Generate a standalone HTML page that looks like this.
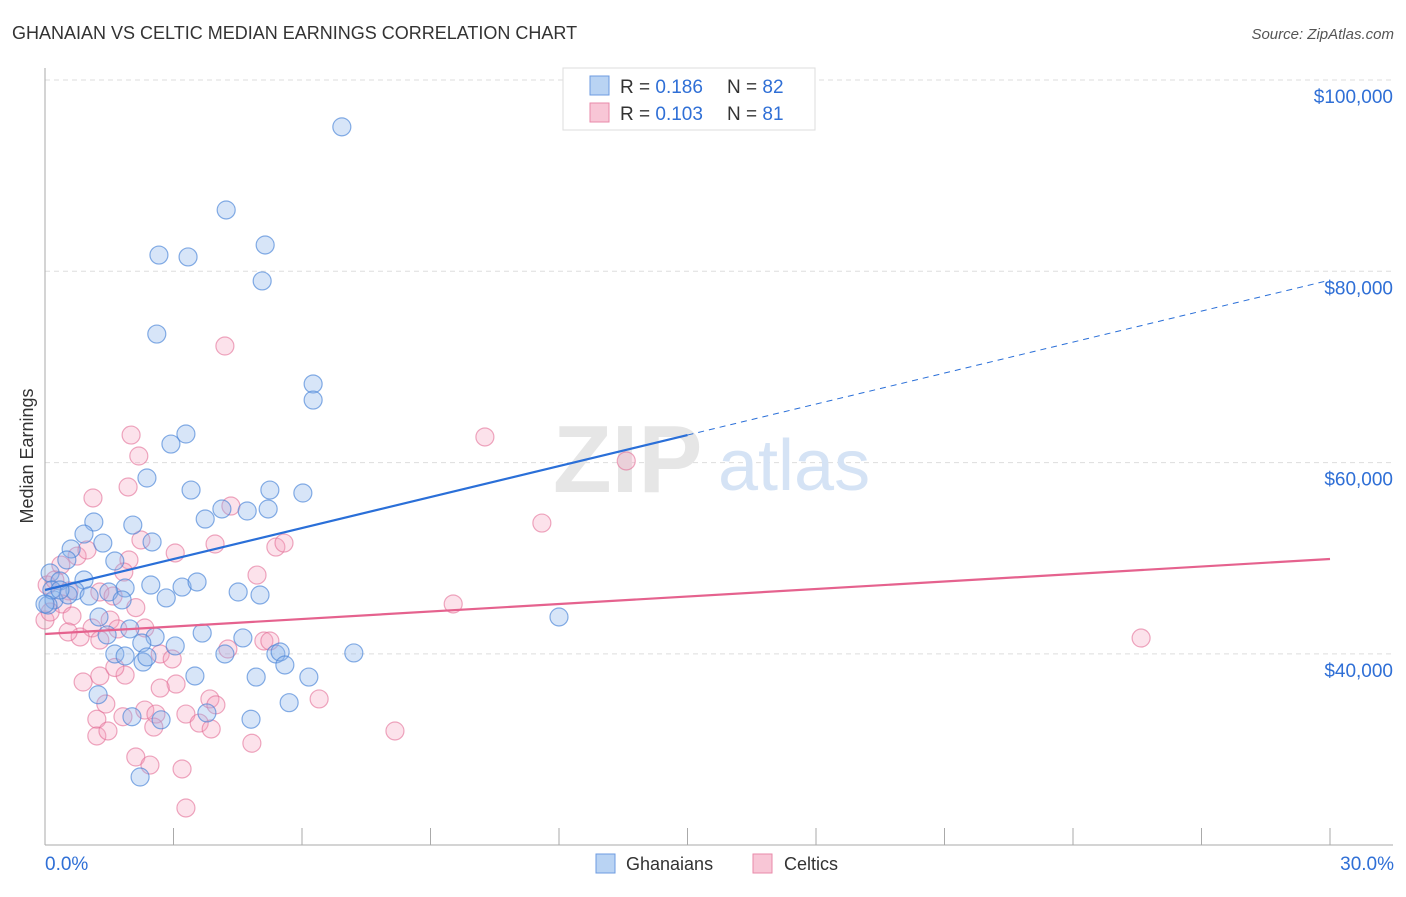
<!DOCTYPE html>
<html><head><meta charset="utf-8"><style>
body{margin:0;background:#fff;font-family:"Liberation Sans",sans-serif;}
svg text{font-family:"Liberation Sans",sans-serif;}
</style></head><body>
<svg width="1406" height="892" viewBox="0 0 1406 892">
<text x="12" y="39" font-size="18" fill="#333">GHANAIAN VS CELTIC MEDIAN EARNINGS CORRELATION CHART</text>
<text x="1394" y="39" font-size="15" fill="#555" font-style="italic" text-anchor="end">Source: ZipAtlas.com</text>
<text x="33" y="456" font-size="18" fill="#333" transform="rotate(-90 33 456)" text-anchor="middle">Median Earnings</text>
<g id="grid"></g>
<text x="553" y="492" font-size="96" fill="#e6e6e6" font-family="Liberation Serif" font-weight="bold">ZIP</text>
<text x="718" y="490" font-size="72" fill="#d5e3f5">atlas</text>
<g id="axes"></g>
<g id="pts"></g>
<g id="lines"></g>
<g>
<rect x="563" y="68" width="252" height="62" fill="#fff" stroke="#ddd"/>
<rect x="590" y="76" width="19" height="19" fill="#b9d3f3" stroke="#6d9be0"/>
<rect x="590" y="103" width="19" height="19" fill="#f8c6d6" stroke="#e98aa9"/>
<text x="620" y="93" font-size="19" fill="#333">R = <tspan fill="#2f6fd6">0.186</tspan><tspan x="727">N = </tspan><tspan fill="#2f6fd6">82</tspan></text>
<text x="620" y="120" font-size="19" fill="#333">R = <tspan fill="#2f6fd6">0.103</tspan><tspan x="727">N = </tspan><tspan fill="#2f6fd6"> 81</tspan></text>
</g>
<g>
<rect x="596" y="854" width="19" height="19" fill="#b9d3f3" stroke="#6d9be0"/>
<text x="626" y="870" font-size="18" fill="#333">Ghanaians</text>
<rect x="753" y="854" width="19" height="19" fill="#f8c6d6" stroke="#e98aa9"/>
<text x="784" y="870" font-size="18" fill="#333">Celtics</text>
</g>
</svg>
<script>
const blueX=[6.93,4.23,5.14,2.66,3.34,5.07,2.61,6.26,6.26,3.29,2.94,2.38,3.41,5.25,6.02,1.14,2.05,3.74,4.13,4.72,5.21,0.91,0.61,1.35,2.5,0.51,1.63,0.12,0.35,0.91,1.87,2.47,3.2,3.55,4.51,5.02,0.7,1.03,1.49,1.8,2.83,0.21,0.54,1.26,1.98,1.45,2.57,3.04,3.67,4.62,1.63,2.26,2.29,1.87,2.38,3.5,4.2,4.93,5.39,5.49,5.6,6.16,7.21,1.24,5.7,2.03,2.71,3.78,4.81,2.22,12.0,0.07,0.16,0.35,0];
const blueY=[95100,86410,82750,81700,81500,78990,73440,68220,66540,62990,61940,58390,57130,57130,56820,53790,53470,54100,55150,54940,55150,52530,50970,51590,51700,49820,49710,48460,47620,47730,46890,47200,46990,47520,46470,46160,46580,46050,46470,45640,45850,45640,46160,43860,42610,41980,41770,40830,42180,41670,39990,41140,39150,39780,39680,37690,39990,37580,39990,40200,38840,37580,40100,35730,34900,33430,33110,33830,33170,27130,43860,45110,46680,46680,45220];
const pinkX=[4.2,2.01,2.19,10.27,13.57,1.12,1.94,11.6,4.34,3.04,3.97,5.39,5.58,2.24,0.37,0.75,0.98,1.96,1.28,1.59,1.84,0.05,0.23,0.56,0.4,0.63,1.1,0.82,0.54,1.52,1.7,1.28,2.33,2.12,5.11,5.25,4.95,9.53,25.59,0.89,1.28,1.87,1.63,2.69,2.97,3.06,2.69,3.85,3.99,6.4,4.27,1.21,1.42,1.82,2.33,2.59,2.54,3.29,3.6,3.88,1.21,1.47,4.83,8.17,2.12,2.45,3.2,3.29,0,0.12];
const pinkY=[72190,62880,60690,62680,60170,56300,57450,53680,55460,50550,51490,51170,51590,51910,49290,50230,50860,49820,46470,46050,48560,47200,47730,46580,45220,43960,42710,41770,42290,43540,42610,41450,42710,44840,41350,41350,48240,45220,41660,37060,37690,37790,38580,39990,39470,36850,36430,35290,34670,35290,40510,33170,34760,33430,34130,33710,32350,33710,32770,32150,31420,31940,30660,31940,29220,28380,27970,23890,43540,44380];
const yTicks=[100000,80000,60000,40000];
const yTickLabels=["$100,000","$80,000","$60,000","$40,000"];
const xTicks=[0,3,6,9,12,15,18,21,24,27,30];
const blueTrend=[46680,62880,79080]; // at x=0,15,30
const pinkTrend=[42080,49920]; // at x=0,30
const NS="http://www.w3.org/2000/svg";
const sx=v=>45+v*1285/30;
const sy=v=>80+(100000-v)*191.3/20000;
function mk(t,a,p){const e=document.createElementNS(NS,t);for(const k in a)e.setAttribute(k,a[k]);p.appendChild(e);return e;}
const grid=document.getElementById('grid'),axes=document.getElementById('axes'),pts=document.getElementById('pts'),lines=document.getElementById('lines');
yTicks.forEach((v,i)=>{
 const l=mk('line',{x1:45,x2:1393,y1:sy(v),y2:sy(v),stroke:'#ddd','stroke-dasharray':'5,4'},grid);
 
 
 const t=mk('text',{x:1393,y:sy(v)+23,'font-size':19,fill:'#2f6fd6','text-anchor':'end'},axes);
 t.textContent=yTickLabels[i];
 
 
});
const ya=mk('line',{x1:45,x2:45,y1:68,y2:845,stroke:'#aaa'},axes);


const xa=mk('line',{x1:45,x2:1393,y1:845,y2:845,stroke:'#aaa'},axes);


xTicks.forEach(v=>{
 const l=mk('line',{x1:sx(v),x2:sx(v),y1:828,y2:845,stroke:'#aaa'},axes);
 
 
});
const xl0=mk('text',{x:45,y:870,'font-size':19,fill:'#2f6fd6'},axes);xl0.textContent='0.0%';


const xl1=mk('text',{x:1394,y:870,'font-size':19,fill:'#2f6fd6','text-anchor':'end'},axes);xl1.textContent='30.0%';


pinkX.forEach((v,i)=>{
 const c=mk('circle',{cx:sx(v),cy:sy(pinkY[i]),r:9,fill:'rgba(244,160,188,0.3)',stroke:'rgba(226,110,150,0.6)','stroke-width':1.2},pts);
 
 
});
blueX.forEach((v,i)=>{
 const c=mk('circle',{cx:sx(v),cy:sy(blueY[i]),r:9,fill:'rgba(140,180,235,0.35)',stroke:'rgba(70,130,215,0.65)','stroke-width':1.2},pts);
 
 
});
const b1=mk('line',{x1:sx(0),y1:sy(blueTrend[0]),x2:sx(15),y2:sy(blueTrend[1]),stroke:'#2a6fd8','stroke-width':2.2},lines);


const b2=mk('line',{x1:sx(15),y1:sy(blueTrend[1]),x2:sx(30),y2:sy(blueTrend[2]),stroke:'#2a6fd8','stroke-width':1,'stroke-dasharray':'6,5'},lines);


const p1=mk('line',{x1:sx(0),y1:sy(pinkTrend[0]),x2:sx(30),y2:sy(pinkTrend[1]),stroke:'#e5628e','stroke-width':2.2},lines);


</script>
</body></html>
